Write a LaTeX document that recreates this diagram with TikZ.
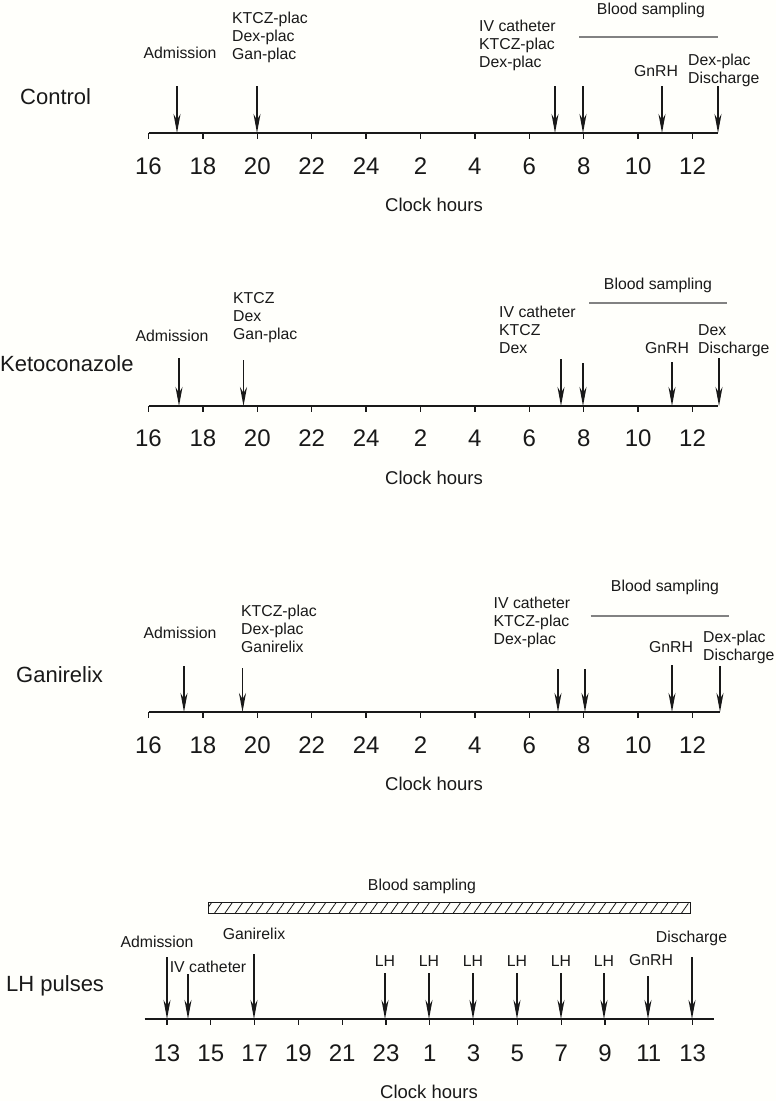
\documentclass[tikz,border=0pt]{standalone}
\usepackage{fontspec}
\setmainfont{Liberation Sans}
\usetikzlibrary{positioning}
\usetikzlibrary{arrows.meta}
\usetikzlibrary{patterns.meta}
\definecolor{paper}{RGB}{255,255,251}
\definecolor{ink}{RGB}{25,25,25}
\definecolor{sampgray}{RGB}{130,130,130}
\tikzset{evarrow/.style = {-{Stealth[length=19pt,width=7pt,inset=6pt]},
                           line width=1.6pt, draw=ink},
         axisline/.style = {line width=1.3pt, draw=ink},
         lab/.style = {font=\fontsize{15.8}{18}\selectfont, inner sep=0pt,
                       text height=11.3pt, text depth=0pt, text=ink},
         multilab/.style = {font=\fontsize{15.8}{18}\selectfont, inner sep=0pt,
                            align=left, anchor=north west, text=ink},
         grp/.style = {font=\fontsize{22}{26}\selectfont, inner sep=0pt,
                       text height=15.8pt, text depth=0pt, anchor=west, text=ink},
         ticklab/.style = {font=\fontsize{24}{28}\selectfont, inner sep=0pt,
                           text height=17.2pt, text depth=0pt, text=ink},
         hourlab/.style = {font=\fontsize{18.5}{22}\selectfont, inner sep=0pt,
                           text height=13.2pt, text depth=0pt, text=ink},
         sampline/.style = {line width=1.1pt, draw=sampgray}}

\begin{document}
\begin{tikzpicture}[x=1pt,y=-1pt]
  \fill[paper] (0,0) rectangle (776,1101);

  % Control
  \node[grp] (ctl) at (20,97) {Control};
  \draw[axisline] (148.5,133) -- (718,133);
  \foreach \lab [count=\k from 0] in {16,18,20,22,24,2,4,6,8,10,12} {
    \draw[axisline] (148.5+54.4*\k,133) -- ++(0,6);
    \node[ticklab] (ctl-t\k) at (148.5+54.4*\k,166) {\lab};
  }
  \node[hourlab] (ctl-hrs) at (434,205) {Clock hours};
  \foreach \nm/\x in {adm/177, ktcz/257, iv/555, smp/583, gnrh/662, dis/718} {
    \coordinate (ctl-\nm-a) at (\x,86);
    \coordinate (ctl-\nm-b) at (\x,133);
    \draw[evarrow] (ctl-\nm-a) -- (ctl-\nm-b);
  }
  \node[lab] (ctl-adm) at (180,53) {Admission};
  \node[multilab] (ctl-ktcz) at (232,12) {KTCZ-plac\\Dex-plac\\Gan-plac};
  \node[multilab] (ctl-iv) at (479,20) {IV catheter\\KTCZ-plac\\Dex-plac};
  \node[lab] (ctl-blood) at (651,9) {Blood sampling};
  \draw[sampline] (579,37) -- (718,37);
  \node[lab] (ctl-gnrh) at (656,71) {GnRH};
  \node[multilab] (ctl-dis) at (688,54) {Dex-plac\\Discharge};

  % Ketoconazole
  \node[grp] (keto) at (0,364) {Ketoconazole};
  \draw[axisline] (148.5,406) -- (718,406);
  \foreach \lab [count=\k from 0] in {16,18,20,22,24,2,4,6,8,10,12} {
    \draw[axisline] (148.5+54.4*\k,406) -- ++(0,6);
    \node[ticklab] (keto-t\k) at (148.5+54.4*\k,438) {\lab};
  }
  \node[hourlab] (keto-hrs) at (434,478) {Clock hours};
  \foreach \nm/\x/\t in {adm/179/358, ktcz/243.5/360, iv/561/359, smp/583/363,
                         gnrh/672/362, dis/719/358} {
    \coordinate (keto-\nm-a) at (\x,\t);
    \coordinate (keto-\nm-b) at (\x,406);
    \draw[evarrow] (keto-\nm-a) -- (keto-\nm-b);
  }
  \node[lab] (keto-adm) at (172,336) {Admission};
  \node[multilab] (keto-ktcz) at (233,292) {KTCZ\\Dex\\Gan-plac};
  \node[multilab] (keto-iv) at (499,306) {IV catheter\\KTCZ\\Dex};
  \node[lab] (keto-blood) at (658,284) {Blood sampling};
  \draw[sampline] (589,303) -- (727,303);
  \node[lab] (keto-gnrh) at (667,348) {GnRH};
  \node[multilab] (keto-dis) at (698,324) {Dex\\Discharge};

  % Ganirelix
  \node[grp] (gan) at (16,675) {Ganirelix};
  \draw[axisline] (148.5,712) -- (720,712);
  \foreach \lab [count=\k from 0] in {16,18,20,22,24,2,4,6,8,10,12} {
    \draw[axisline] (148.5+54.4*\k,712) -- ++(0,6);
    \node[ticklab] (gan-t\k) at (148.5+54.4*\k,745) {\lab};
  }
  \node[hourlab] (gan-hrs) at (434,784) {Clock hours};
  \foreach \nm/\x/\t in {adm/184/666, ktcz/242.5/668, iv/558/669, smp/585/669,
                         gnrh/672/665, dis/720/666} {
    \coordinate (gan-\nm-a) at (\x,\t);
    \coordinate (gan-\nm-b) at (\x,712);
    \draw[evarrow] (gan-\nm-a) -- (gan-\nm-b);
  }
  \node[lab] (gan-adm) at (180,633) {Admission};
  \node[multilab] (gan-ktcz) at (241,605) {KTCZ-plac\\Dex-plac\\Ganirelix};
  \node[multilab] (gan-iv) at (493.5,597) {IV catheter\\KTCZ-plac\\Dex-plac};
  \node[lab] (gan-blood) at (665,586) {Blood sampling};
  \draw[sampline] (590.5,616) -- (729,616);
  \node[lab] (gan-gnrh) at (671,647) {GnRH};
  \node[multilab] (gan-dis) at (703,631) {Dex-plac\\Discharge};

  % LH pulses
  \node[grp] (lhp) at (6,984) {LH pulses};
  \draw[axisline] (144.5,1019) -- (714,1019);
  \foreach \lab [count=\k from 0] in {13,15,17,19,21,23,1,3,5,7,9,11,13} {
    \draw[axisline] (167+43.8*\k,1019) -- ++(0,6);
    \node[ticklab] (lhp-t\k) at (167+43.8*\k,1053) {\lab};
  }
  \node[hourlab] (lhp-hrs) at (429,1092) {Clock hours};
  \node[lab] (lhp-blood) at (422,885) {Blood sampling};
  \draw[line width=1pt, draw=ink,
        pattern={Lines[angle=55,distance=8.5pt,line width=0.8pt]},
        pattern color=ink] (208,902) rectangle (690,913);
  \foreach \nm/\x/\t in {adm/167/957, iv/188/974, gan/254/954, lha/385/973,
                         lhb/429/973, lhc/473/973, lhd/517/973, lhe/561/973,
                         lhf/604/973, gnrh/648/976, dis/692/957} {
    \coordinate (lhp-\nm-a) at (\x,\t);
    \coordinate (lhp-\nm-b) at (\x,1019);
    \draw[evarrow] (lhp-\nm-a) -- (lhp-\nm-b);
  }
  \node[lab] (lhp-adm) at (157,942) {Admission};
  \node[lab] (lhp-iv) at (208,967) {IV catheter};
  \node[lab] (lhp-gan) at (254,934) {Ganirelix};
  \foreach \x [count=\k] in {385,429,473,517,561,604}
    \node[lab] (lhp-lh\k) at (\x,961) {LH};
  \node[lab] (lhp-gnrh) at (651,960) {GnRH};
  \node[lab] (lhp-dis) at (691.5,937) {Discharge};
\end{tikzpicture}
\end{document}
